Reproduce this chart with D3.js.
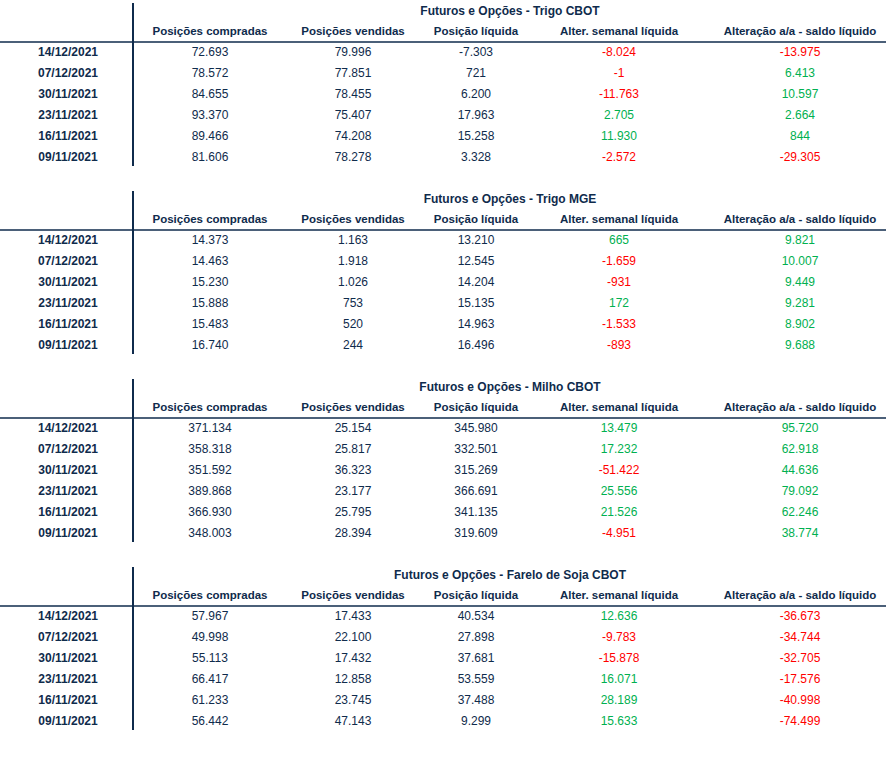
<!DOCTYPE html>
<html><head><meta charset="utf-8">
<script src="https://cdn.jsdelivr.net/npm/d3@7"></script>
<style>body{margin:0;background:#fff}</style>
</head><body>
<script>
const titles = ["Futuros e Opções - Trigo CBOT", "Futuros e Opções - Trigo MGE",
  "Futuros e Opções - Milho CBOT", "Futuros e Opções - Farelo de Soja CBOT"]
const headers = ["Posições compradas", "Posições vendidas", "Posição líquida",
  "Alter. semanal líquida", "Alteração a/a - saldo líquido"]
const dates = ["14/12/2021", "07/12/2021", "30/11/2021", "23/11/2021", "16/11/2021", "09/11/2021"]
const trigoCbot = [
  ["72.693", "79.996", "-7.303", "-8.024", "-13.975"],
  ["78.572", "77.851", "721", "-1", "6.413"],
  ["84.655", "78.455", "6.200", "-11.763", "10.597"],
  ["93.370", "75.407", "17.963", "2.705", "2.664"],
  ["89.466", "74.208", "15.258", "11.930", "844"],
  ["81.606", "78.278", "3.328", "-2.572", "-29.305"]]
const trigoMge = [
  ["14.373", "1.163", "13.210", "665", "9.821"],
  ["14.463", "1.918", "12.545", "-1.659", "10.007"],
  ["15.230", "1.026", "14.204", "-931", "9.449"],
  ["15.888", "753", "15.135", "172", "9.281"],
  ["15.483", "520", "14.963", "-1.533", "8.902"],
  ["16.740", "244", "16.496", "-893", "9.688"]]
const milhoCbot = [
  ["371.134", "25.154", "345.980", "13.479", "95.720"],
  ["358.318", "25.817", "332.501", "17.232", "62.918"],
  ["351.592", "36.323", "315.269", "-51.422", "44.636"],
  ["389.868", "23.177", "366.691", "25.556", "79.092"],
  ["366.930", "25.795", "341.135", "21.526", "62.246"],
  ["348.003", "28.394", "319.609", "-4.951", "38.774"]]
const fareloCbot = [
  ["57.967", "17.433", "40.534", "12.636", "-36.673"],
  ["49.998", "22.100", "27.898", "-9.783", "-34.744"],
  ["55.113", "17.432", "37.681", "-15.878", "-32.705"],
  ["66.417", "12.858", "53.559", "16.071", "-17.576"],
  ["61.233", "23.745", "37.488", "28.189", "-40.998"],
  ["56.442", "47.143", "9.299", "15.633", "-74.499"]]
const blocks = [trigoCbot, trigoMge, milhoCbot, fareloCbot]

const W = 886, H = 779, navy = "#0f2b4c"
const svg = d3.select("body").append("svg").attr("width", W).attr("height", H)
  .style("font-family", "'Liberation Sans', Arial, sans-serif").style("font-size", "12px")

const cx = [68, 210, 353, 476, 619, 800]
const blockY = d3.scaleLinear().domain([0, 1]).range([3, 191])
const rowY = d3.scaleLinear().domain([0, 1]).range([53, 74])

blocks.forEach((rows, b) => {
  const g = svg.append("g").attr("transform", `translate(0,${blockY(b)})`)
  g.append("line").attr("x1", 133).attr("x2", 133).attr("y1", 0).attr("y2", 163)
    .attr("stroke", navy).attr("stroke-width", 2)
  g.append("line").attr("x1", 0).attr("x2", W).attr("y1", 39).attr("y2", 39)
    .attr("stroke", navy).attr("stroke-width", 1.5)
  g.append("text").attr("x", 510).attr("y", 12).attr("text-anchor", "middle")
    .attr("font-weight", "bold").attr("fill", navy).text(titles[b])
  g.selectAll("text.h").data(headers).join("text").attr("class", "h")
    .attr("x", (d, i) => cx[i + 1]).attr("y", 32).attr("text-anchor", "middle")
    .attr("font-weight", "bold").attr("font-size", "11.5px").attr("fill", navy).text(d => d)
  rows.forEach((r, i) => {
    const y = rowY(i)
    g.append("text").attr("x", cx[0]).attr("y", y).attr("text-anchor", "middle")
      .attr("font-weight", "bold").attr("fill", navy).text(dates[i])
    g.selectAll(null).data(r).join("text")
      .attr("x", (d, j) => cx[j + 1]).attr("y", y).attr("text-anchor", "middle")
      .attr("fill", (d, j) => j < 3 ? navy : (d.startsWith("-") ? "#ff0000" : "#00b050"))
      .text(d => d)
  })
})
</script>
</body></html>
